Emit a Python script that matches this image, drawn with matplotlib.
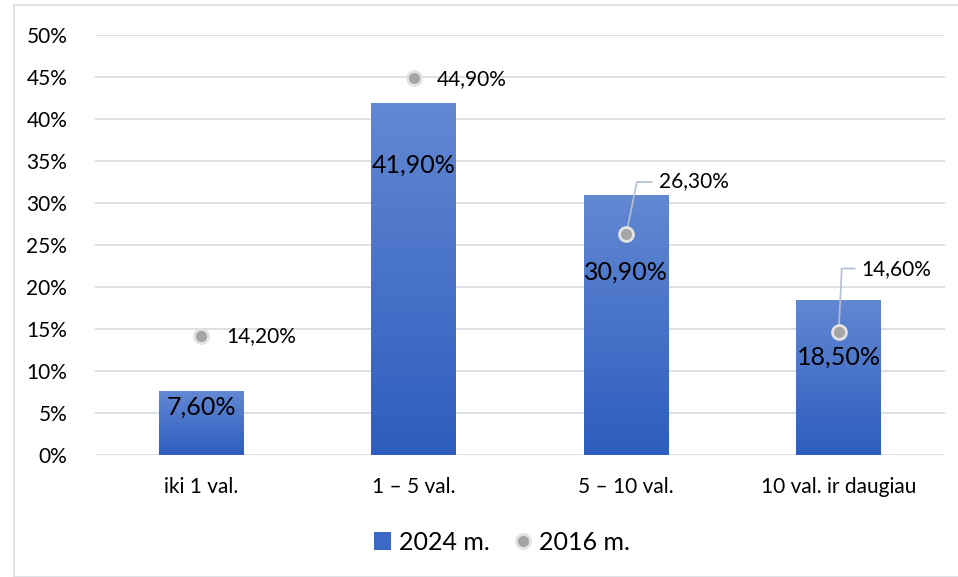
import matplotlib.pyplot as plt
import numpy as np
from matplotlib.colors import LinearSegmentedColormap
from matplotlib.patches import Rectangle
from matplotlib.lines import Line2D

plt.rcParams['font.family'] = ['Lato', 'DejaVu Sans']

categories = ['iki 1 val.', '1 – 5 val.', '5 – 10 val.', '10 val. ir daugiau']
vals_2024 = [7.6, 41.9, 30.9, 18.5]
vals_2016 = [14.2, 44.9, 26.3, 14.6]
labels_2024 = ['7,60%', '41,90%', '30,90%', '18,50%']
labels_2016 = ['14,20%', '44,90%', '26,30%', '14,60%']
yticks = [0, 5, 10, 15, 20, 25, 30, 35, 40, 45, 50]

fig = plt.figure(figsize=(9.58, 5.77), dpi=100)
# light frame around the chart
fig.patches.append(Rectangle((14/958, 0), 1, 1 - 5/577, transform=fig.transFigure,
                             fill=False, edgecolor='#d9dde3', linewidth=1.2))
ax = fig.add_axes([95/958, 1 - 455/577, 850/958, 420/577])

x = np.arange(len(categories))
bars = ax.bar(x, vals_2024, width=0.40, color='#4472c4', zorder=2)

# vertical gradient in every bar
cmap = LinearSegmentedColormap.from_list('g', ['#2d5dbe', '#6388d3'])
grad = np.linspace(0, 1, 256).reshape(-1, 1)
for b in bars:
    x0, y0 = b.get_x(), b.get_y()
    im = ax.imshow(grad, cmap=cmap, origin='lower', aspect='auto', zorder=2.1,
                   extent=[x0, x0 + b.get_width(), y0, y0 + b.get_height()])
    im.set_clip_path(b)

ax.plot(x, vals_2016, linestyle='none', marker='o', markersize=10,
        markerfacecolor='#a5a5a5', markeredgecolor='#e2e2e2', markeredgewidth=2, zorder=4)

# labels of 2024 bars
bar_label_y = [5.7, 34.5, 21.8, 11.7]
for i in range(len(x)):
    ax.text(x[i], bar_label_y[i], labels_2024[i], ha='center', va='center',
            fontsize=18, color='black', zorder=5)

# labels of 2016 points
lab_x = [0.12, 1.11, 2.155, 3.108]
lab_y = [14.2, 44.8, 32.6, 22.1]
for i in range(len(x)):
    ax.text(lab_x[i], lab_y[i], labels_2016[i], ha='left', va='center',
            fontsize=15, color='black', zorder=5)

# leader lines
lc = '#b4bfd0'
ax.plot([2, 2.05, 2.12], [vals_2016[2], 32.5, 32.5], color=lc, lw=1.2, zorder=3.5)
ax.plot([3, 3.014, 3.075], [vals_2016[3], 22.2, 22.2], color=lc, lw=1.2, zorder=3.5)

ax.set_xlim(-0.5, 3.5)
ax.set_ylim(0, 50)
ax.set_yticks(yticks)
ax.set_yticklabels([f'{t}%' for t in yticks])
ax.set_xticks(x)
ax.set_xticklabels(categories)
ax.tick_params(axis='both', length=0, labelsize=15)
ax.tick_params(axis='y', pad=20)
ax.tick_params(axis='x', pad=16)
ax.grid(axis='y', color='#d9dde3', linewidth=1.3, zorder=0)
ax.set_axisbelow(True)
for s in ax.spines.values():
    s.set_visible(False)

handles = [
    Rectangle((0, 0), 1, 1, facecolor='#3c68c6'),
    Line2D([], [], linestyle='none', marker='o', markersize=10,
           markerfacecolor='#a5a5a5', markeredgecolor='#e2e2e2', markeredgewidth=2),
]
fig.legend(handles, ['2024 m.', '2016 m.'], loc='center', ncol=2,
           bbox_to_anchor=(502/958, 1 - 542/577), frameon=False, fontsize=18,
           handlelength=0.7, handleheight=0.7, handletextpad=0.3, columnspacing=1.0)

fig.savefig('out.png', dpi=100)
